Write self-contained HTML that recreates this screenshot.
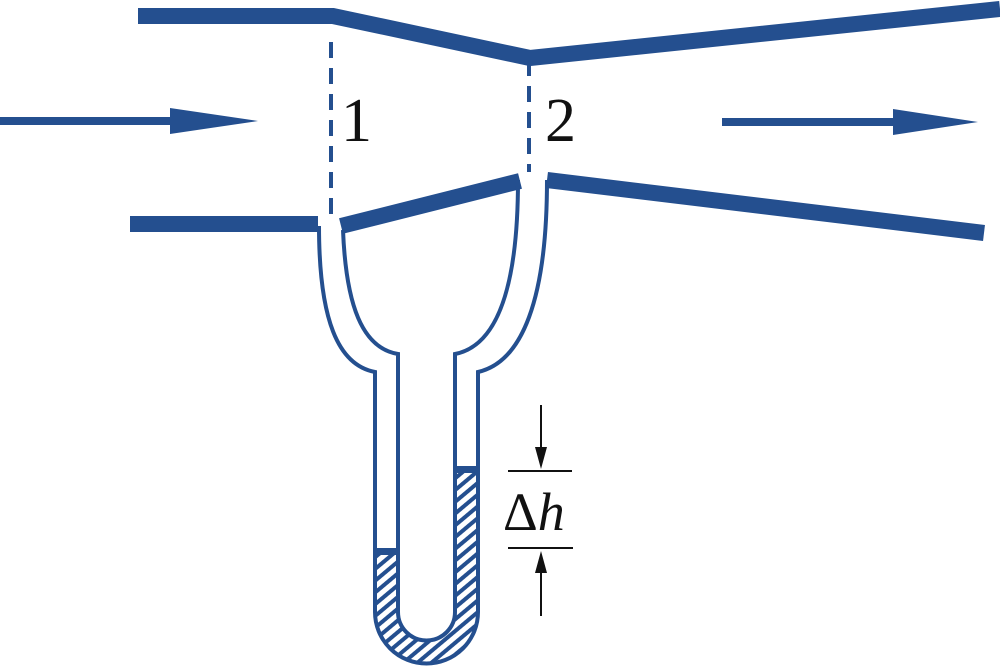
<!DOCTYPE html>
<html><head><meta charset="utf-8"><style>
html,body{margin:0;padding:0;background:#fff;}
svg{display:block;}
.t{font-family:"Liberation Serif","DejaVu Serif",serif;fill:#111;}
</style></head><body>
<svg width="1000" height="668" viewBox="0 0 1000 668" xmlns="http://www.w3.org/2000/svg">
<defs>
<pattern id="h" patternUnits="userSpaceOnUse" width="9" height="9" patternTransform="rotate(-40)">
<rect width="9" height="9" fill="#fff"/>
<rect width="9" height="4" fill="#244f8f"/>
</pattern>
</defs>
<g fill="none" stroke="#244f8f" stroke-linejoin="miter">
<polyline points="138,16 333,16 530,58 1000,9" stroke-width="16"/>
<line x1="130" y1="224" x2="318" y2="224" stroke-width="16"/>
<line x1="341" y1="226" x2="520" y2="181" stroke-width="16"/>
<line x1="547" y1="180" x2="984" y2="233" stroke-width="16"/>
<line x1="331" y1="42" x2="331" y2="215" stroke-width="4" stroke-dasharray="16,10"/>
<line x1="529" y1="60" x2="529" y2="172" stroke-width="4" stroke-dasharray="16,10"/>
</g>
<path d="M375,553 L398,553 L398,612 A28.5,28.5 0 0 0 455,612 L455,470 L478,470 L478,612 A51.5,51.5 0 0 1 375,612 Z" fill="url(#h)"/>
<rect x="375" y="548" width="23" height="7" fill="#244f8f"/>
<rect x="455" y="466" width="23" height="7" fill="#244f8f"/>
<g fill="none" stroke="#244f8f" stroke-width="4">
<path d="M319,226 C319,320 338,365 375,372 L375,612 A51.5,51.5 0 0 0 478,612 L478,372 C522,362 547,300 547,180"/>
<path d="M343,230 C346,305 362,348 398,354 L398,612 A28.5,28.5 0 0 0 455,612 L455,354 C496,346 518,290 518,180"/>
</g>
<g fill="#244f8f">
<rect x="0" y="117" width="172" height="8"/>
<polygon points="170,108 258,121 170,134"/>
<rect x="722" y="118" width="173" height="8"/>
<polygon points="893,109 978,122 893,135"/>
</g>
<g stroke="#111" stroke-width="2" fill="#111">
<line x1="541" y1="405" x2="541" y2="450"/>
<polygon points="535,447 547,447 541,469" stroke="none"/>
<line x1="508" y1="471" x2="572" y2="471"/>
<line x1="508" y1="548" x2="573" y2="548"/>
<line x1="541" y1="570" x2="541" y2="616"/>
<polygon points="535,573 547,573 541,551" stroke="none"/>
</g>
<text class="t" x="341" y="141" font-size="62">1</text>
<text class="t" x="545" y="141" font-size="62">2</text>
<text class="t" x="503" y="530" font-size="54">Δ<tspan font-style="italic">h</tspan></text>
</svg>
</body></html>
